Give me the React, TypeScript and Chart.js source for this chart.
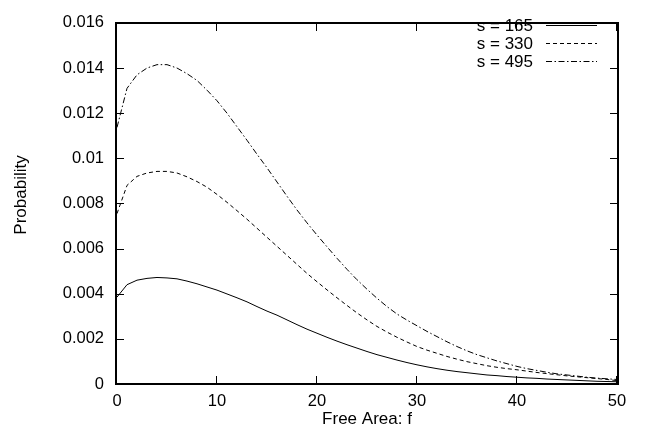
import React, { useEffect, useRef } from "react";
import { Chart, registerables } from "chart.js";

Chart.register(...registerables);

const freeArea: number[] = [
  0, 1, 2, 3, 4, 5, 6, 7, 8, 9, 10, 11, 12, 13, 14, 15, 16, 17, 18, 19, 20,
  21, 22, 23, 24, 25, 26, 27, 28, 29, 30, 31, 32, 33, 34, 35, 36, 37, 38, 39,
  40, 41, 42, 43, 44, 45, 46, 47, 48, 49, 50,
];

const s165: number[] = [
  0.00385, 0.0044, 0.0046, 0.00468, 0.00472, 0.0047, 0.00466, 0.00456, 0.00444,
  0.0043, 0.00416, 0.00399, 0.00382, 0.00364, 0.00343, 0.00323, 0.00305,
  0.00284, 0.00263, 0.00243, 0.00225, 0.00207, 0.0019, 0.00174, 0.00159,
  0.00144, 0.0013, 0.00118, 0.00106, 0.00095, 0.00085, 0.00076, 0.00068,
  0.00061, 0.00055, 0.0005, 0.00045, 0.0004, 0.00037, 0.00033, 0.0003,
  0.00027, 0.00025, 0.00022, 0.0002, 0.00018, 0.00016, 0.00014, 0.00012,
  0.00011, 0.0001,
];

const s330: number[] = [
  0.00755, 0.0088, 0.0092, 0.00935, 0.00942, 0.00942, 0.00935, 0.00918,
  0.00897, 0.00872, 0.0084, 0.00805, 0.00768, 0.0073, 0.0069, 0.0065,
  0.0061, 0.0057, 0.0053, 0.0049, 0.00453, 0.00417, 0.00382, 0.00348,
  0.00315, 0.00284, 0.00255, 0.0023, 0.00207, 0.00186, 0.00166, 0.0015,
  0.00136, 0.00122, 0.0011, 0.00099, 0.0009, 0.00081, 0.00074, 0.00068,
  0.00063, 0.00057, 0.00051, 0.00046, 0.00041, 0.00036, 0.00032, 0.00028,
  0.00024, 0.0002, 0.00015,
];

const s495: number[] = [
  0.01137, 0.0131, 0.0137, 0.014, 0.01415, 0.01415, 0.014, 0.01375, 0.01345,
  0.01302, 0.01255, 0.012, 0.0114, 0.0108, 0.01018, 0.00958, 0.00895, 0.00832,
  0.00771, 0.00714, 0.0066, 0.00608, 0.00557, 0.00508, 0.00462, 0.0042, 0.0038,
  0.00343, 0.0031, 0.00283, 0.00258, 0.00233, 0.0021, 0.00187, 0.00166,
  0.00147, 0.0013, 0.00116, 0.00102, 0.0009, 0.00078, 0.00068, 0.0006,
  0.00052, 0.00045, 0.0004, 0.00035, 0.0003, 0.00026, 0.00023, 0.0002,
];

const seriesLabels: string[] = ["s = 165", "s = 330", "s = 495"];
const xTicks: number[] = [0, 10, 20, 30, 40, 50];
const yTicks: number[] = [0, 0.002, 0.004, 0.006, 0.008, 0.01, 0.012, 0.014, 0.016];
const xTitle = "Free Area: f";
const yTitle = "Probability";

const FAMILY = "'Liberation Sans', Arial, sans-serif";

const framePlugin = {
  id: "gnuframe",
  afterDraw(chart: any) {
    const ctx: CanvasRenderingContext2D = chart.ctx;
    const area = chart.chartArea;
    const left = Math.round(area.left);
    const right = Math.round(area.right);
    const top = Math.round(area.top);
    const bottom = Math.round(area.bottom);
    const xs = chart.scales.x;
    const ys = chart.scales.y;
    ctx.save();
    ctx.setLineDash([]);
    ctx.globalAlpha = 1;
    ctx.fillStyle = "#000";
    // frame (2px) as filled rectangles
    const L = left - 2; // 115
    const R = right; // 617
    const T = top - 1; // 7
    const B = bottom - 1; // 383
    ctx.fillRect(L, T, R - L + 2, 2);
    ctx.fillRect(L, B, R - L + 2, 2);
    ctx.fillRect(L, T, 2, B - T + 2);
    ctx.fillRect(R, T, 2, B - T + 2);
    // inward ticks on all four sides
    const tl = 7;
    xTicks.forEach((v) => {
      const px = Math.round(xs.getPixelForValue(v)) - 1;
      ctx.fillRect(px, B - tl, 1, tl);
      ctx.fillRect(px, T + 2, 1, tl);
    });
    yTicks.forEach((v) => {
      const py = Math.round(ys.getPixelForValue(v));
      ctx.fillRect(L + 2, py, tl, 1);
      ctx.fillRect(R - tl, py, tl, 1);
    });

    // axis titles
    ctx.font = `17px ${FAMILY}`;
    ctx.textAlign = "center";
    ctx.textBaseline = "middle";
    ctx.fillText(xTitle, (area.left + area.right) / 2, 419);
    ctx.save();
    ctx.translate(21, 195);
    ctx.rotate(-Math.PI / 2);
    ctx.fillText(yTitle, 0, 0);
    ctx.restore();

    // legend (gnuplot style: text, then line sample)
    ctx.strokeStyle = "#000";
    ctx.lineWidth = 1;
    const rowY = [25, 43, 61];
    chart.data.datasets.forEach((ds: any, i: number) => {
      const y = rowY[i] + 0.5;
      ctx.textAlign = "right";
      ctx.fillText(ds.label, 533, y + 0.5);
      ctx.beginPath();
      ctx.setLineDash(ds.borderDash || []);
      ctx.moveTo(546, y);
      ctx.lineTo(597, y);
      ctx.stroke();
    });
    ctx.restore();
  },
};

export default function App() {
  const ref = useRef<HTMLCanvasElement>(null);

  useEffect(() => {
    if (!ref.current) return;
    const mk = (vals: number[]) => freeArea.map((x, i) => ({ x, y: vals[i] }));
    const chart = new Chart(ref.current, {
      type: "line",
      data: {
        datasets: [
          {
            label: seriesLabels[0],
            data: mk(s165),
            borderColor: "#000",
            borderWidth: 1,
            pointRadius: 0,
            tension: 0,
            borderDash: [],
          },
          {
            label: seriesLabels[1],
            data: mk(s330),
            borderColor: "#000",
            borderWidth: 1,
            pointRadius: 0,
            tension: 0,
            borderDash: [4, 3],
          },
          {
            label: seriesLabels[2],
            data: mk(s495),
            borderColor: "#000",
            borderWidth: 1,
            pointRadius: 0,
            tension: 0,
            borderDash: [6, 2.5, 1.5, 2.5],
          },
        ],
      },
      options: {
        responsive: false,
        animation: false,
        layout: { padding: { top: 8, right: 36, left: 0, bottom: 0 } },
        plugins: {
          legend: { display: false },
          tooltip: { enabled: false },
        },
        scales: {
          x: {
            type: "linear",
            min: 0,
            max: 50,
            afterFit: (s: any) => {
              s.height = 57;
            },
            afterBuildTicks: (s: any) => {
              s.ticks = xTicks.map((v) => ({ value: v }));
            },
            grid: { display: false, drawTicks: false },
            border: { display: false },
            ticks: {
              padding: 8,
              color: "#000",
              font: { family: FAMILY, size: 16.5 },
              maxRotation: 0,
            },
          },
          y: {
            type: "linear",
            min: 0,
            max: 0.016,
            afterFit: (s: any) => {
              s.width = 117;
            },
            afterBuildTicks: (s: any) => {
              s.ticks = yTicks.map((v) => ({ value: v }));
            },
            grid: { display: false, drawTicks: false },
            border: { display: false },
            ticks: {
              padding: 13,
              color: "#000",
              font: { family: FAMILY, size: 16.5 },
              callback: (v: any) => String(Number(Number(v).toFixed(4))),
            },
          },
        },
      },
      plugins: [framePlugin],
    });
    return () => chart.destroy();
  }, []);

  return (
    <div style={{ position: "absolute", left: 0, top: 0, width: 653, height: 441, background: "#fff" }}>
      <canvas ref={ref} width={653} height={441} style={{ display: "block", width: 653, height: 441 }} />
    </div>
  );
}
